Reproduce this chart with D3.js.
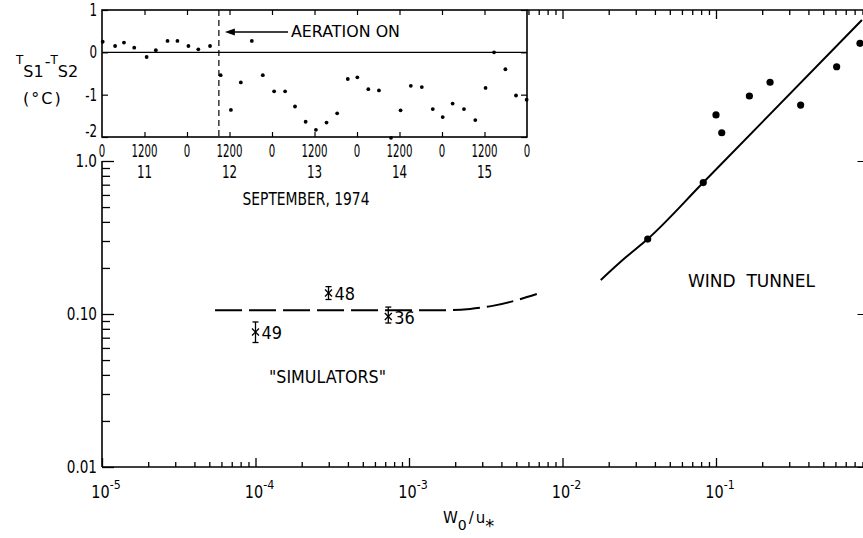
<!DOCTYPE html>
<html>
<head>
<meta charset="utf-8">
<script src="https://cdn.jsdelivr.net/npm/d3@7"></script>
<style>
  body { margin: 0; background: #fff; }
  svg { display: block; font-family: "DejaVu Sans", sans-serif; }
  text { fill: #000; }
</style>
</head>
<body>
<svg id="chart" width="863" height="538"></svg>
<script>
/* ---------------- DATA ---------------- */
// inset: hours after 0000 on 11 Sept 1974, temperature difference (°C)
const insetHours = [0.2, 3.7, 6.2, 9.1, 12.6, 15.2, 18.5, 21.3, 24.4, 27.2, 30.5, 33.5, 36.4, 39.2, 42.3,
  45.4, 48.6, 51.7, 54.5, 57.5, 60.4, 63.4, 66.4, 69.4, 72.1, 75.2, 78.2, 81.6, 84.3, 87.2, 90.3, 93.4,
  96.2, 99.0, 102.2, 105.4, 108.3, 110.7, 113.9, 116.9, 119.9];
const insetDiff = [0.25, 0.15, 0.23, 0.11, -0.11, 0.05, 0.27, 0.27, 0.15, 0.07, 0.15, -0.54, -1.36, -0.71, 0.27,
  -0.54, -0.92, -0.92, -1.28, -1.64, -1.83, -1.66, -1.44, -0.63, -0.59, -0.87, -0.90, -2.02, -1.37, -0.79, -0.82, -1.34,
  -1.53, -1.21, -1.34, -1.60, -0.84, 0.0, -0.40, -1.02, -1.12];
const aerationHour = 33;
const hourTicks = [0, 12, 24, 36, 48, 60, 72, 84, 96, 108, 120];
const hourLabels = ["0", "1200", "0", "1200", "0", "1200", "0", "1200", "0", "1200", "0"];
const dayHours = [12, 36, 60, 84, 108];
const dayLabels = ["11", "12", "13", "14", "15"];
const insetYTicks = [1, 0, -1, -2];

// main: wind tunnel
const windX = [0.0359, 0.0826, 0.100, 0.109, 0.165, 0.225, 0.356, 0.611, 0.867];
const windY = [0.309, 0.723, 2.0, 1.53, 2.66, 3.27, 2.32, 4.13, 5.88];
const windFitX = [0.01774, 0.0255, 0.0359, 0.0826, 0.893];
const windFitY = [0.1667, 0.232, 0.309, 0.723, 8.35];

// main: simulators
const simCurveX = [5.45e-5, 1.8e-3, 2.5e-3, 3.5e-3, 6.8e-3];
const simCurveY = [0.106, 0.106, 0.108, 0.113, 0.135];
const simIds = ["49", "48", "36"];
const simX = [1.0e-4, 2.99e-4, 7.33e-4];
const simY = [0.0762, 0.137, 0.0963];
const simLo = [0.0651, 0.1244, 0.0873];
const simHi = [0.0887, 0.151, 0.111];

const xDecades = [-5, -4, -3, -2, -1];
const yLabels = [[0.01, "0.01"], [0.1, "0.10"], [1, "1.0"]];

/* ---------------- SETUP ---------------- */
const svg = d3.select("#chart");

const x = d3.scaleLog().domain([1e-5, 1]).range([102, 869.5]);
const y = d3.scaleLog().domain([0.01, 10]).range([467, 8]);

const ix = d3.scaleLinear().domain([0, 120]).range([102, 527]);
const iy = d3.scaleLinear().domain([-2, 1]).range([137, 10]);

const frameTop = 10;
const insetRight = ix(120);

function label(sel, txt, px, py, o = {}) {
  return sel.append("text")
    .attr("transform", `translate(${px},${py}) scale(${o.sx || 1},1)`)
    .attr("text-anchor", o.anchor || "start")
    .attr("font-size", o.size || 17)
    .text(txt);
}

function cleanAxis(g, w) {
  g.select(".domain").remove();
  g.selectAll(".tick line").attr("stroke", "#000").attr("stroke-width", w || 1.3);
}

/* ---------------- MAIN FRAME ---------------- */
const xMajor = xDecades.concat([0]).map(e => Math.pow(10, e));
const xMinor = xDecades.flatMap(e => d3.range(2, 10).map(m => m * Math.pow(10, e)));
const yMajor = [-2, -1, 0, 1].map(e => Math.pow(10, e));
const yMinor = [-2, -1, 0].flatMap(e => d3.range(2, 10).map(m => m * Math.pow(10, e)));

const frame = svg.append("g").attr("stroke", "#000").attr("stroke-width", 1.6);
frame.append("line").attr("x1", x(1e-5)).attr("x2", x(1)).attr("y1", y(0.01)).attr("y2", y(0.01));
frame.append("line").attr("x1", x(1e-5)).attr("x2", x(1e-5)).attr("y1", y(1)).attr("y2", y(0.01));
frame.append("line").attr("x1", x(1)).attr("x2", x(1)).attr("y1", frameTop).attr("y2", y(0.01));
frame.append("line").attr("x1", insetRight).attr("x2", x(1)).attr("y1", frameTop).attr("y2", frameTop);

// bottom ticks (inward)
[[xMajor, -9], [xMinor, -5]].forEach(([vals, len]) => {
  svg.append("g").attr("transform", `translate(0,${y(0.01)})`)
    .call(d3.axisBottom(x).tickValues(vals).tickSize(len).tickFormat(""))
    .call(cleanAxis);
});
// top ticks, only right of the inset
[[xMajor, -9], [xMinor, -5]].forEach(([vals, len]) => {
  svg.append("g").attr("transform", `translate(0,${frameTop})`)
    .call(d3.axisTop(x).tickValues(vals.filter(v => x(v) > insetRight + 1)).tickSize(len).tickFormat(""))
    .call(cleanAxis);
});
// left ticks, below 1.0 only
[[yMajor, -12], [yMinor, -8]].forEach(([vals, len]) => {
  svg.append("g").attr("transform", `translate(${x(1e-5)},0)`)
    .call(d3.axisLeft(y).tickValues(vals.filter(v => v <= 1)).tickSize(len).tickFormat(""))
    .call(cleanAxis);
});
// right ticks
[[yMajor, -12], [yMinor, -6]].forEach(([vals, len]) => {
  svg.append("g").attr("transform", `translate(${x(1)},0)`)
    .call(d3.axisRight(y).tickValues(vals.filter(v => y(v) > frameTop)).tickSize(len).tickFormat(""))
    .call(cleanAxis, 1);
});

/* ---------------- MAIN LABELS ---------------- */
xDecades.forEach(e => {
  const t = svg.append("text")
    .attr("transform", `translate(${x(Math.pow(10, e)) + 4},498) scale(0.85,1)`)
    .attr("text-anchor", "middle")
    .attr("font-size", 17)
    .text("10");
  t.append("tspan").attr("dy", -9).attr("font-size", 13).text(String(e));
});

yLabels.forEach(([v, s]) => label(svg, s, 97, y(v) + 6, { anchor: "end", sx: 0.8 }));

const xt = svg.append("text").attr("x", 443).attr("y", 523).attr("font-size", 15);
xt.append("tspan").text("W");
xt.append("tspan").attr("dy", 7).attr("font-size", 14).text("0");
xt.append("tspan").attr("dy", -7).attr("dx", 2).text("/");
xt.append("tspan").attr("dx", 2).text("u");
xt.append("tspan").attr("dy", 9).attr("font-size", 18).text("*");

svg.append("text").attr("x", 688).attr("y", 287).attr("font-size", 18)
  .attr("textLength", 127).attr("lengthAdjust", "spacingAndGlyphs")
  .attr("xml:space", "preserve").text("WIND  TUNNEL");

svg.append("text").attr("x", 269).attr("y", 383).attr("font-size", 17)
  .attr("textLength", 117).attr("lengthAdjust", "spacingAndGlyphs")
  .text("\"SIMULATORS\"");

/* ---------------- WIND TUNNEL ---------------- */
const line = d3.line().curve(d3.curveMonotoneX);

svg.append("path")
  .attr("d", line(windFitX.map((v, i) => [x(v), y(windFitY[i])])))
  .attr("fill", "none").attr("stroke", "#000").attr("stroke-width", 2);

svg.selectAll(".wind")
  .data(windX.map((v, i) => [v, windY[i]]))
  .enter().append("circle")
  .attr("class", "wind")
  .attr("cx", d => x(d[0]))
  .attr("cy", d => y(d[1]))
  .attr("r", 3.6)
  .attr("fill", "#000");

/* ---------------- SIMULATORS ---------------- */
svg.append("path")
  .attr("d", line(simCurveX.map((v, i) => [x(v), y(simCurveY[i])])))
  .attr("fill", "none").attr("stroke", "#000").attr("stroke-width", 2)
  .attr("stroke-dasharray", "27,7");

simIds.forEach((id, i) => {
  const cx = x(simX[i]), cy = y(simY[i]);
  const g = svg.append("g").attr("stroke", "#000").attr("stroke-width", 1.3);
  g.append("line").attr("x1", cx).attr("x2", cx).attr("y1", y(simLo[i])).attr("y2", y(simHi[i]));
  [simLo[i], simHi[i]].forEach(v => {
    g.append("line").attr("x1", cx - 3).attr("x2", cx + 3).attr("y1", y(v)).attr("y2", y(v));
  });
  g.append("line").attr("x1", cx - 3.5).attr("x2", cx + 3.5).attr("y1", cy - 3.5).attr("y2", cy + 3.5);
  g.append("line").attr("x1", cx - 3.5).attr("x2", cx + 3.5).attr("y1", cy + 3.5).attr("y2", cy - 3.5);
  label(svg, id, cx + 6, cy + 7, { size: 17, sx: 0.95 });
});

/* ---------------- INSET ---------------- */
const inset = svg.append("g");

inset.append("rect")
  .attr("x", ix(0)).attr("y", iy(1))
  .attr("width", ix(120) - ix(0)).attr("height", iy(-2) - iy(1))
  .attr("fill", "none").attr("stroke", "#000").attr("stroke-width", 1.6);

inset.append("line")
  .attr("x1", ix(0)).attr("x2", ix(120)).attr("y1", iy(0)).attr("y2", iy(0))
  .attr("stroke", "#000").attr("stroke-width", 1.1);

inset.append("line")
  .attr("x1", ix(aerationHour)).attr("x2", ix(aerationHour))
  .attr("y1", iy(1)).attr("y2", iy(-2))
  .attr("stroke", "#000").attr("stroke-width", 1.2).attr("stroke-dasharray", "6,4");

// arrow pointing back to the aeration line
const tipX = ix(aerationHour) + 6, arrowY = 32;
inset.append("line")
  .attr("x1", tipX + 6).attr("x2", 288)
  .attr("y1", arrowY).attr("y2", arrowY)
  .attr("stroke", "#000").attr("stroke-width", 1.3);
inset.append("path")
  .attr("d", `M${tipX},${arrowY} L${tipX + 10},${arrowY - 3.5} L${tipX + 10},${arrowY + 3.5} Z`)
  .attr("fill", "#000");

inset.append("text").attr("x", 291).attr("y", 37).attr("font-size", 16.5)
  .attr("textLength", 109).attr("lengthAdjust", "spacingAndGlyphs")
  .text("AERATION ON");

[[d3.axisBottom, iy(-2)], [d3.axisTop, iy(1)]].forEach(([ax, py]) => {
  inset.append("g").attr("transform", `translate(0,${py})`)
    .call(ax(ix).tickValues(hourTicks.slice(1, -1)).tickSize(-5).tickFormat(""))
    .call(cleanAxis, 1.2);
});
inset.append("g").attr("transform", `translate(${ix(0)},0)`)
  .call(d3.axisLeft(iy).tickValues(insetYTicks).tickSize(-6).tickFormat(""))
  .call(cleanAxis, 1.2);
inset.append("g").attr("transform", `translate(${ix(120)},0)`)
  .call(d3.axisRight(iy).tickValues(insetYTicks).tickSize(-6).tickFormat(""))
  .call(cleanAxis, 1.2);

inset.selectAll(".idot")
  .data(insetHours.map((h, i) => [h, insetDiff[i]]))
  .enter().append("circle")
  .attr("class", "idot")
  .attr("cx", d => ix(d[0]))
  .attr("cy", d => iy(d[1]))
  .attr("r", 1.9)
  .attr("fill", "#000");

hourTicks.forEach((h, i) => label(inset, hourLabels[i], ix(h), 157, { anchor: "middle", sx: 0.6 }));
dayHours.forEach((h, i) => label(inset, dayLabels[i], ix(h), 178, { anchor: "middle", sx: 0.7 }));
label(inset, "SEPTEMBER, 1974", 306, 205, { anchor: "middle", size: 18, sx: 0.77 });

insetYTicks.forEach(v => {
  label(inset, v < 0 ? "-" + Math.abs(v) : String(v), 97, Math.min(iy(v) + 6, 137), { anchor: "end", sx: 0.7 });
});

// T_S1 - T_S2 axis title
const yt = inset.append("text").attr("x", 16).attr("y", 64);
yt.append("tspan").attr("font-size", 12).text("T");
yt.append("tspan").attr("font-size", 16).attr("y", 77).text("S1");
yt.append("tspan").attr("font-size", 16).attr("y", 67).attr("dx", 1).text("-");
yt.append("tspan").attr("font-size", 12).attr("y", 64).text("T");
yt.append("tspan").attr("font-size", 16).attr("y", 77).text("S2");

inset.append("text").attr("x", 23).attr("y", 104).attr("font-size", 16)
  .attr("letter-spacing", 2).text("(°C)");
</script>
</body>
</html>
